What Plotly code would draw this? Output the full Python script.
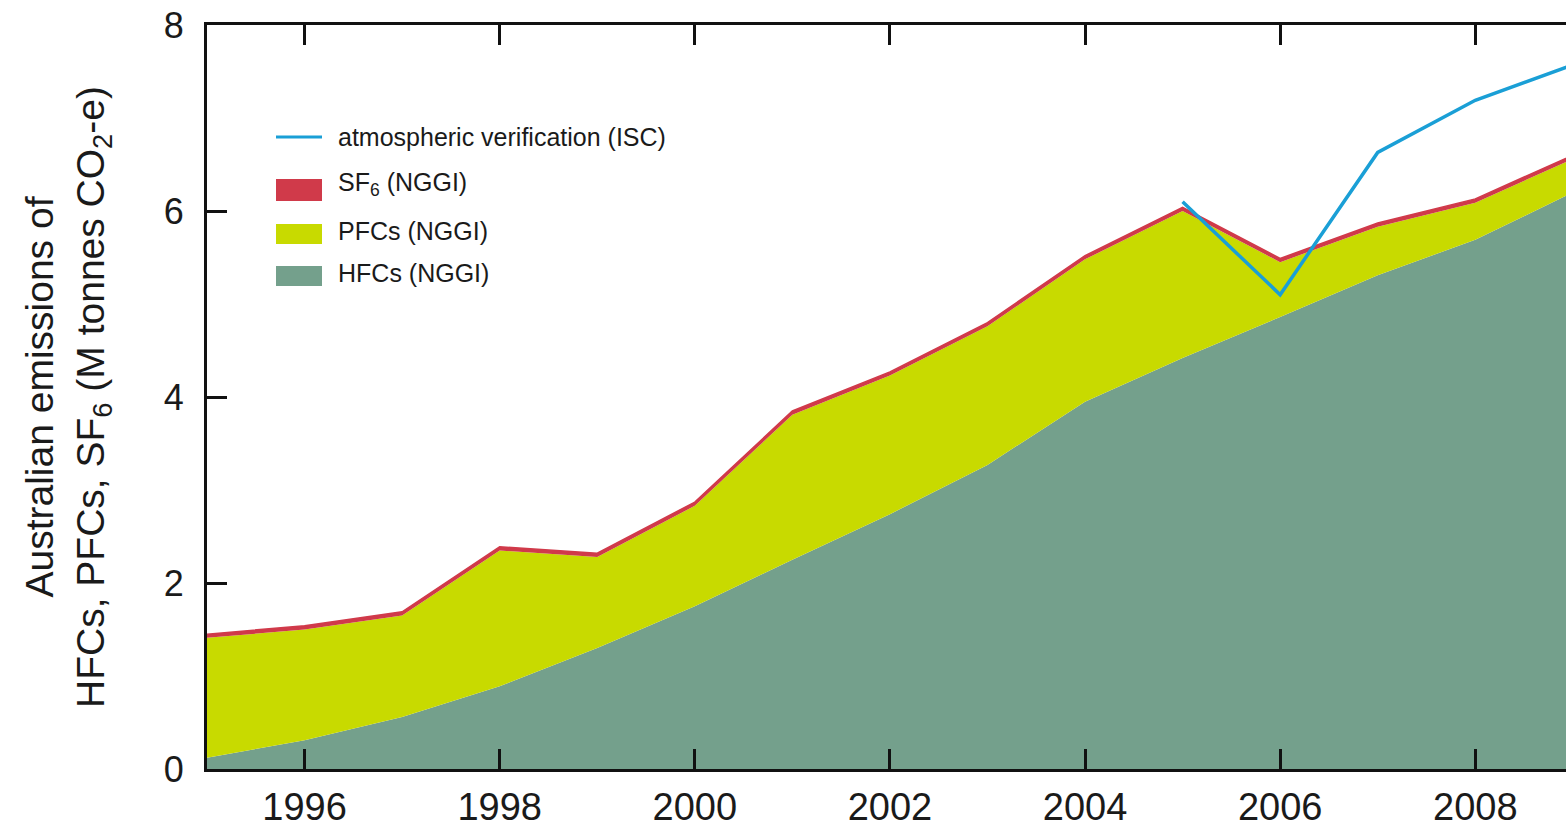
import plotly.graph_objects as go

# Australian synthetic greenhouse gas emissions (M tonnes CO2-e)
years = [1995, 1996, 1997, 1998, 1999, 2000, 2001, 2002, 2003, 2004, 2005, 2006, 2007, 2008, 2009]
hfcs = [0.12, 0.31, 0.56, 0.89, 1.30, 1.75, 2.25, 2.74, 3.27, 3.95, 4.42, 4.86, 5.31, 5.69, 6.20]
pfcs = [1.29, 1.19, 1.09, 1.46, 0.98, 1.08, 1.56, 1.49, 1.49, 1.53, 1.58, 0.59, 0.52, 0.40, 0.36]
sf6 = [0.04, 0.04, 0.04, 0.04, 0.04, 0.04, 0.04, 0.04, 0.04, 0.04, 0.04, 0.04, 0.04, 0.04, 0.04]

isc_years = [2005, 2006, 2007, 2008, 2009]
isc_values = [6.10, 5.10, 6.63, 7.19, 7.57]

x_ticks = [1996, 1998, 2000, 2002, 2004, 2006, 2008]
y_ticks = [0, 2, 4, 6, 8]

HFC_COLOR = "#74a08c"
PFC_COLOR = "#c8da00"
SF6_COLOR = "#d03a4a"
ISC_COLOR = "#1a9fd6"
FONT = "Liberation Sans Narrow, Arial Narrow, Liberation Sans, sans-serif"

fig = go.Figure()
fig.add_trace(go.Scatter(x=years, y=hfcs, stackgroup="inv", mode="lines",
                         line=dict(width=0, color=HFC_COLOR), fillcolor=HFC_COLOR,
                         name="HFCs (NGGI)", showlegend=False))
fig.add_trace(go.Scatter(x=years, y=pfcs, stackgroup="inv", mode="lines",
                         line=dict(width=0, color=PFC_COLOR), fillcolor=PFC_COLOR,
                         name="PFCs (NGGI)", showlegend=False))
fig.add_trace(go.Scatter(x=years, y=sf6, stackgroup="inv", mode="lines",
                         line=dict(width=1.5, color=SF6_COLOR), fillcolor=SF6_COLOR,
                         name="SF<sub>6</sub> (NGGI)", showlegend=False))
fig.add_trace(go.Scatter(x=isc_years, y=isc_values, mode="lines",
                         line=dict(width=3.5, color=ISC_COLOR),
                         name="atmospheric verification (ISC)", showlegend=False))

# hand-placed legend (paper coordinates)
L, R, B, T = 207, 1566, 769, 25
def px(xp):
    return (xp - L) / (R - L)
def py(yp):
    return (B - yp) / (B - T)

shapes = [
    dict(type="line", xref="paper", yref="paper", x0=px(276), x1=px(322), y0=py(137), y1=py(137),
         line=dict(color=ISC_COLOR, width=3)),
]
legend_boxes = [(SF6_COLOR, 179, 201), (PFC_COLOR, 224, 244), (HFC_COLOR, 266, 286)]
for color, top, bot in legend_boxes:
    shapes.append(dict(type="rect", xref="paper", yref="paper", x0=px(276), x1=px(322),
                       y0=py(bot), y1=py(top), fillcolor=color, line=dict(width=0)))

legend_labels = [
    ("atmospheric verification (ISC)", 137),
    ("SF<sub>6</sub> (NGGI)", 184),
    ("PFCs (NGGI)", 231),
    ("HFCs (NGGI)", 273),
]
annotations = []
for text, yc in legend_labels:
    annotations.append(dict(text=text, xref="paper", yref="paper", x=px(336), y=py(yc),
                            xanchor="left", yanchor="middle", showarrow=False,
                            font=dict(family=FONT, size=25, color="#1a1a1a")))

annotations.append(dict(
    text="Australian emissions of<br>HFCs, PFCs, SF<sub>6</sub> (M tonnes CO<sub>2</sub>-e)",
    xref="paper", yref="paper", x=px(68), y=0.5, xanchor="center", yanchor="middle",
    textangle=-90, showarrow=False, font=dict(family=FONT, size=39, color="#1a1a1a")))

fig.update_layout(
    width=1566, height=828,
    margin=dict(l=L, r=0, t=T, b=828 - B),
    paper_bgcolor="white", plot_bgcolor="white",
    shapes=shapes, annotations=annotations,
    xaxis=dict(range=[1995, 2008.93], tickvals=x_ticks, ticks="inside", ticklen=20, tickwidth=3,
               tickcolor="#111", showline=True, linecolor="#111", linewidth=3, mirror="ticks",
               showgrid=False, zeroline=False, ticklabelstandoff=2, automargin=False,
               tickfont=dict(family=FONT, size=38, color="#1a1a1a")),
    yaxis=dict(range=[0, 8], tickvals=y_ticks, ticks="inside", ticklen=20, tickwidth=3,
               tickcolor="#111", showline=True, linecolor="#111", linewidth=3,
               showgrid=False, zeroline=False, ticklabelstandoff=13, automargin=False,
               tickfont=dict(family=FONT, size=36, color="#1a1a1a")),
)

fig.write_html("out.html")
